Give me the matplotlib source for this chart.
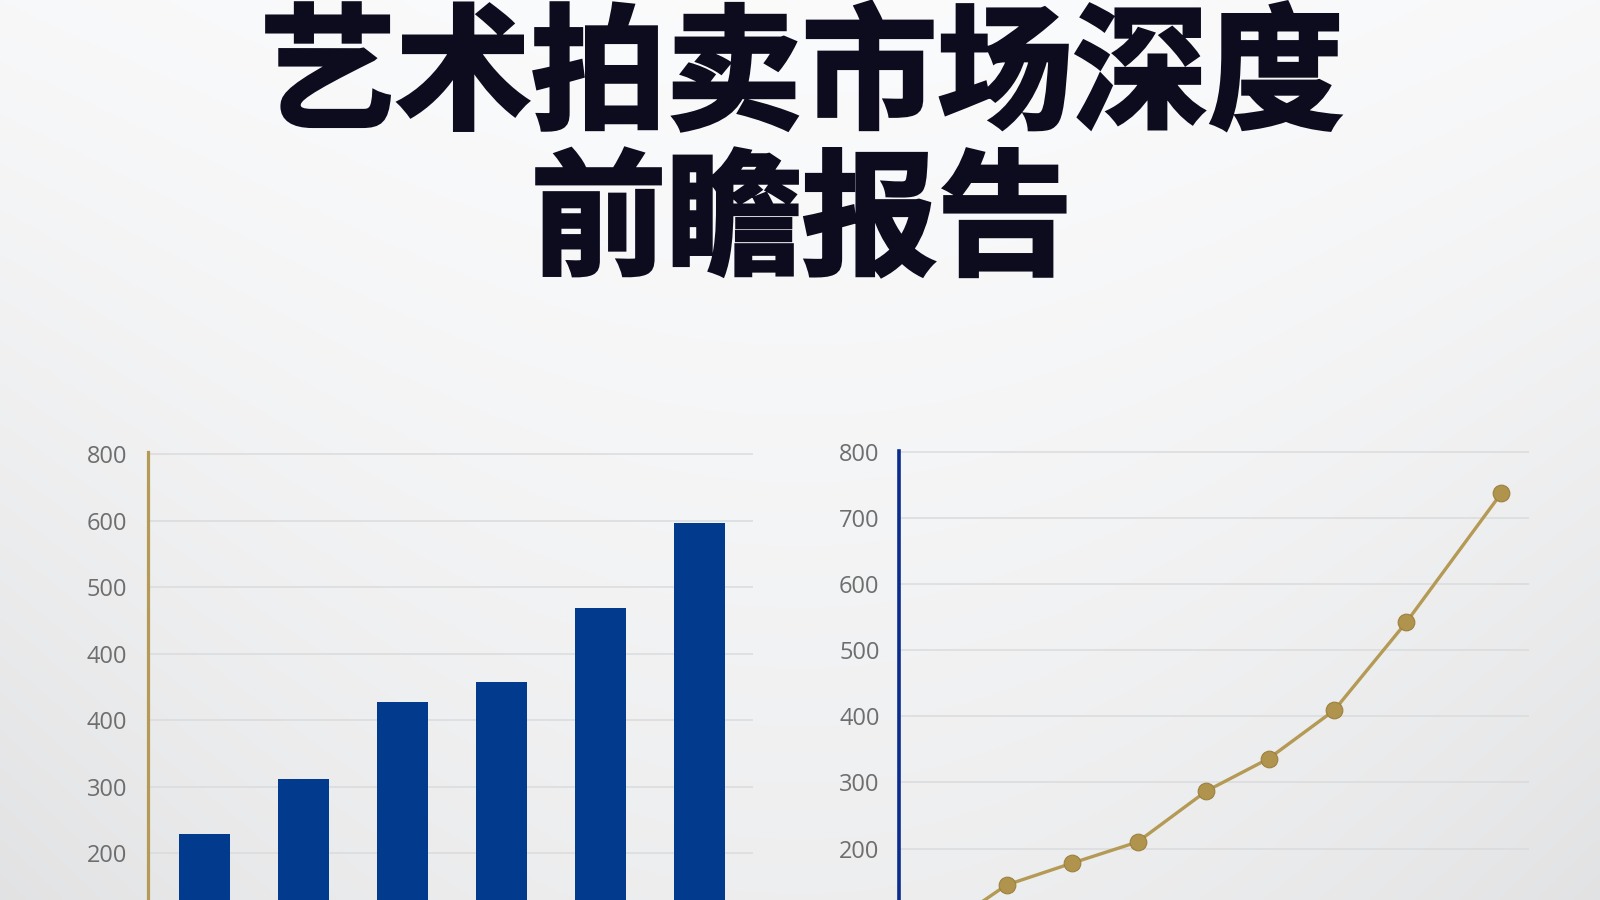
import numpy as np
import matplotlib
matplotlib.use("Agg")
import matplotlib.pyplot as plt
import matplotlib.patheffects as pe

plt.rcParams['font.family'] = ['Noto Sans CJK SC', 'DejaVu Sans']

# titolo
title_line1 = "艺术拍卖市场深度"
title_line2 = "前瞻报告"

# grafico a barre (sinistra)
bar_positions = [0, 1, 2, 3, 4, 5]
bar_values = [229, 312, 427, 458, 568, 697]
bar_ticks = [200, 300, 400, 500, 600, 700, 800]
bar_tick_labels = ["200", "300", "400", "400", "500", "600", "800"]

# grafico a linee (destra)
line_x = [-1, 0, 1, 2, 3.05, 4, 5, 6.1, 7.55]
line_values = [77, 145, 178, 210, 287, 336, 409, 542, 737]
line_ticks = [200, 300, 400, 500, 600, 700, 800]
line_tick_labels = ["200", "300", "400", "500", "600", "700", "800"]

BLUE = "#023a8e"
NAVY = "#0a2c8c"
GOLD = "#b59a55"
GRID = "#dadbdd"
TICK = "#6e6e6e"
TITLE = "#0c0c1e"

fig = plt.figure(figsize=(16, 9), dpi=100)

# sfondo sfumato
bg = fig.add_axes([0, 0, 1, 1], zorder=-10)
yy, xx = np.mgrid[0:1:300j, 0:1:400j]
shade = 0.985 - 0.05 * yy ** 1.3 - 0.035 * (xx - 0.5) ** 2 * 4 * (0.3 + yy)
rgb = np.dstack([shade - 0.004, shade - 0.002, shade + 0.002]).clip(0, 1)
bg.imshow(rgb, aspect="auto", extent=[0, 1, 0, 1], origin="upper")
bg.axis("off")

thick = [pe.withStroke(linewidth=2.5, foreground=TITLE, joinstyle="miter")]
fig.text(0.501, 0.913, title_line1, ha="center", va="center", fontsize=97.5,
         fontweight="black", color=TITLE, path_effects=thick)
fig.text(0.501, 0.751, title_line2, ha="center", va="center", fontsize=97.5,
         fontweight="black", color=TITLE, path_effects=thick)


def style_axis(ax, spine_color, ticks, labels, pad):
    ax.set_facecolor("none")
    for s in ["top", "right", "bottom"]:
        ax.spines[s].set_visible(False)
    ax.spines["left"].set_color(spine_color)
    ax.spines["left"].set_linewidth(2.3)
    ax.set_xticks([])
    ax.set_yticks(ticks)
    ax.set_yticklabels(labels, fontsize=17, color=TICK, family="Open Sans")
    ax.tick_params(axis="y", length=0, pad=pad)
    ax.yaxis.grid(True, color=GRID, linewidth=1.1)
    ax.set_axisbelow(True)


# barre
ax1 = fig.add_axes([0.0925, 0.0, 0.378, 0.4978])
ax1.bar(bar_positions, bar_values, width=0.514, color=BLUE, zorder=3)
ax1.set_xlim(-0.566, 5.533)
ax1.set_ylim(129.5, 803.2)
style_axis(ax1, GOLD, bar_ticks, bar_tick_labels, 15)

# linea
ax2 = fig.add_axes([0.5619, 0.0, 0.394, 0.4989])
ax2.plot(line_x, line_values, color=GOLD, linewidth=2.4, zorder=3,
         marker="o", markersize=12, markerfacecolor="#b0934c",
         markeredgecolor="#9c8040", markeredgewidth=0.8)
ax2.set_xlim(-1.64, 7.98)
ax2.set_ylim(122.3, 801)
style_axis(ax2, NAVY, line_ticks, line_tick_labels, 14)
ax2.spines["left"].set_linewidth(2.6)

fig.savefig("out.png", dpi=100)
